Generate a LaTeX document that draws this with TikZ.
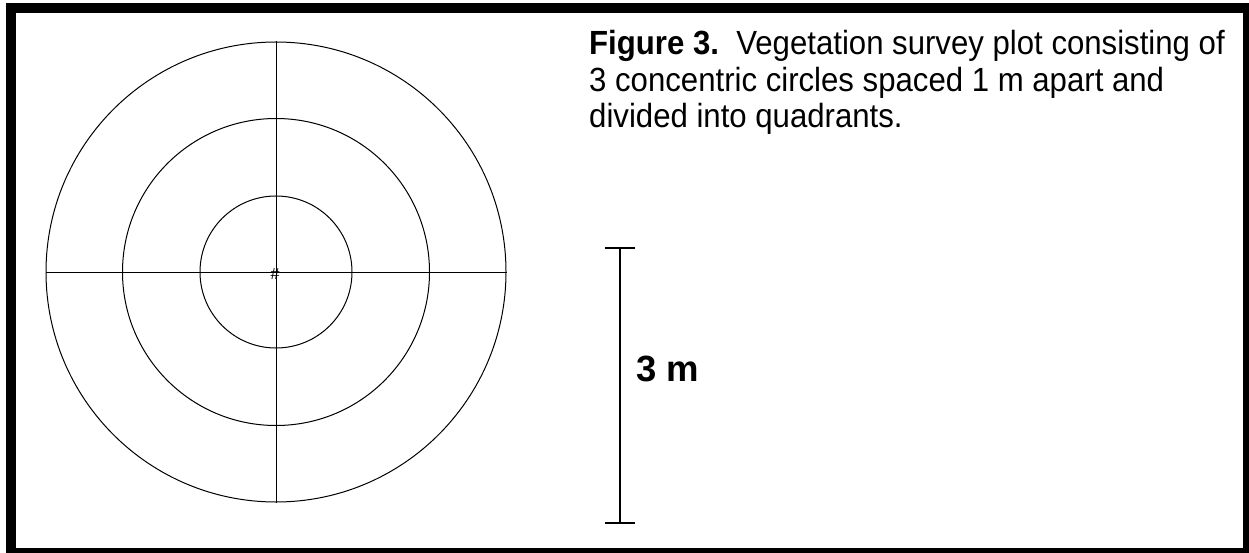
\documentclass[tikz,border=0pt]{standalone}
\usepackage{fontspec}
\setmainfont{Liberation Sans}
\newfontfamily\narrowfont[FakeStretch=0.93]{Liberation Sans}
\usetikzlibrary{positioning}

\begin{document}
\begin{tikzpicture}[x=1pt, y=-1pt,
    ring/.style={draw, circle, line width=1pt, inner sep=0, minimum size=#1},
    axis/.style={line width=1pt},
    bar/.style={line width=2.5pt},
    caption/.style={align=left, anchor=north west, inner sep=0, font=\narrowfont\fontsize{33.5}{36.5}\selectfont}
]
\useasboundingbox (0,0) rectangle (1249,553);
\draw[line width=10pt] (11,8) rectangle (1248,553);
% plot rings
\coordinate (centre) at (276,272);
\node[ring=152pt] (inner) at (centre) {};
\node[ring=307pt] (middle) at (centre) {};
\node[ring=460pt] (outer) at (centre) {};
\draw[axis] (outer.north) -- (outer.south);
\draw[axis] (outer.west) -- (outer.east);
\node[font=\fontsize{16}{16}\selectfont, inner sep=0] (mark) at (275,274) {\#};
% scale bar
\coordinate (bartop) at (620,248);
\coordinate (barbot) at (620,523);
\draw[bar] (bartop) -- (barbot);
\draw[bar] ([xshift=-15pt]bartop) -- ([xshift=15pt]bartop);
\draw[bar] ([xshift=-15pt]barbot) -- ([xshift=15pt]barbot);
\node[font=\bfseries\fontsize{36.5}{36.5}\selectfont, anchor=base west, inner sep=0] (barlabel) at (636,381.5) {3 m};
% caption
\node[caption] (cap) at (589,30.5) {\textbf{Figure 3.}\ \ Vegetation survey plot consisting of\\3 concentric circles spaced 1 m apart and\\divided into quadrants.};
\end{tikzpicture}
\end{document}
